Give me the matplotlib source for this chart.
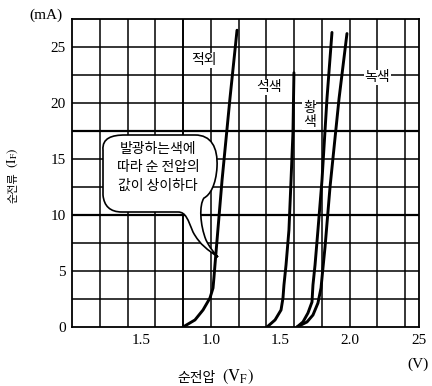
import matplotlib
matplotlib.use('Agg')
import matplotlib.pyplot as plt
from matplotlib.path import Path
from matplotlib.patches import PathPatch
import numpy as np

# ---- data ----
ir_v = [0.80, 0.886, 0.944, 0.994, 1.016, 1.023, 1.030, 1.045, 1.081, 1.138, 1.189]
ir_i = [0.0, 0.63, 1.52, 2.59, 3.48, 4.46, 5.54, 7.77, 13.1, 20.4, 26.5]

red_v = [1.405, 1.463, 1.506, 1.520, 1.527, 1.542, 1.563, 1.578, 1.592, 1.599]
red_i = [0.0, 0.63, 1.52, 2.59, 3.75, 5.54, 8.66, 13.1, 17.4, 22.7]

yel_v = [1.621, 1.664, 1.700, 1.729, 1.736, 1.751, 1.772, 1.801, 1.837, 1.873]
yel_i = [0.0, 0.45, 1.25, 2.23, 3.75, 5.54, 8.66, 13.1, 20.4, 26.3]

grn_v = [1.621, 1.693, 1.736, 1.772, 1.794, 1.808, 1.823, 1.859, 1.924, 1.981]
grn_i = [0.0, 0.45, 1.07, 2.14, 3.48, 5.27, 7.14, 12.5, 20.4, 26.2]

x_ticks = [0.5, 1.0, 1.5, 2.0, 2.5]
x_ticklabels = ["1.5", "1.0", "1.5", "2.0", "25"]
y_ticks = [0, 5, 10, 15, 20, 25]
y_ticklabels = ["0", "5", "10", "15", "20", "25"]

curve_labels = ["적외", "석색", "황\n색", "녹색"]
curve_label_pos = [(0.95, 23.8), (1.42, 21.4), (1.71, 18.9), (2.20, 22.3)]
bubble_lines = ["발광하는색에", "따라 순 전압의", "값이 상이하다"]

W, H = 432, 386
fig = plt.figure(figsize=(W / 100, H / 100), dpi=100)
fig.patch.set_facecolor('white')
ax = fig.add_axes([72 / W, 1 - 327 / H, (419 - 72) / W, (327 - 19) / H])
ax.set_xlim(0, 2.5)
ax.set_ylim(0, 27.5)
ax.set_facecolor('white')
for s in ax.spines.values():
    s.set_linewidth(1.3)
    s.set_color('black')

# grid
for xv in np.arange(0.2, 2.45, 0.2):
    lw = 1.4 if abs(xv - 0.8) < 1e-6 else 1.1
    ax.axvline(xv, color='black', lw=lw, zorder=1)
for yv in np.arange(2.5, 27.4, 2.5):
    lw = 1.6 if (abs(yv - 10) < 1e-6 or abs(yv - 17.5) < 1e-6) else 1.1
    ax.axhline(yv, color='black', lw=lw, zorder=1)

# curves
for v, i in [(ir_v, ir_i), (red_v, red_i), (yel_v, yel_i), (grn_v, grn_i)]:
    ax.plot(v, i, color='black', lw=2.1, solid_capstyle='round',
            solid_joinstyle='round', zorder=4)

# ticks
ax.set_xticks(x_ticks)
ax.set_xticklabels(x_ticklabels, family='Liberation Serif', fontsize=11)
ax.set_yticks(y_ticks)
ax.set_yticklabels(y_ticklabels, family='Liberation Serif', fontsize=11)
ax.tick_params(axis='both', length=0)
ax.tick_params(axis='x', pad=5)
ax.tick_params(axis='y', pad=4.5)

# curve labels
for txt, (xv, yv) in zip(curve_labels, curve_label_pos):
    ax.text(xv, yv, txt, ha='center', va='center', fontsize=10,
            family=['Noto Sans CJK KR', 'DejaVu Sans'], linespacing=1.0,
            bbox=dict(facecolor='white', edgecolor='none', pad=0.5), zorder=5)

# speech bubble (pixel coords of the picture, y downward)
def P(x, y):
    return (x / W, 1 - y / H)

verts = [P(103, 150),
         P(102, 138), P(112, 135), P(125, 135),
         P(195, 135),
         P(211, 135), P(218, 147), P(217, 167),
         P(216, 185), P(210, 195), P(204, 198),
         P(199, 205), P(200, 225), P(206, 240),
         P(210, 248), P(214, 253), P(218, 257),
         P(208, 250), P(200, 245), P(193, 232),
         P(188, 220), P(186, 212), P(178, 212),
         P(122, 212),
         P(110, 212), P(104, 206), P(103, 195),
         P(103, 150)]
codes = ([Path.MOVETO] + [Path.CURVE4] * 3 + [Path.LINETO] + [Path.CURVE4] * 18
         + [Path.LINETO] + [Path.CURVE4] * 3 + [Path.LINETO])
bubble = PathPatch(Path(verts, codes), facecolor='white', edgecolor='black',
                   lw=1.2, transform=fig.transFigure, zorder=3)
ax.add_patch(bubble)
for k, line in enumerate(bubble_lines):
    x, y = P(158, 149 + 18.5 * k)
    fig.text(x, y, line, ha='center', va='center', fontsize=10,
             family=['Noto Sans CJK KR', 'DejaVu Sans'], zorder=6)

# axis units and labels
fig.text(*P(46, 15), '(mA)', ha='center', va='center',
         family='Liberation Serif', fontsize=11)
fig.text(*P(418, 364), '(V)', ha='center', va='center',
         family='Liberation Serif', fontsize=11)
plt.rcParams['mathtext.fontset'] = 'stix'
fig.text(*P(196, 378), '순전압', ha='center', va='center', fontsize=10,
         family=['Noto Sans CJK KR', 'DejaVu Sans'])
fig.text(*P(238, 377), r'$(\mathrm{V_F})$', ha='center', va='center', fontsize=12)
fig.text(*P(13, 188), '순전류', ha='center', va='center', fontsize=8,
         rotation=90, family=['Noto Sans CJK KR', 'DejaVu Sans'])
fig.text(*P(13, 158), r'$(\mathrm{I_F})$', ha='center', va='center',
         fontsize=9.5, rotation=90)

fig.savefig('out.png', dpi=100, facecolor='white')
